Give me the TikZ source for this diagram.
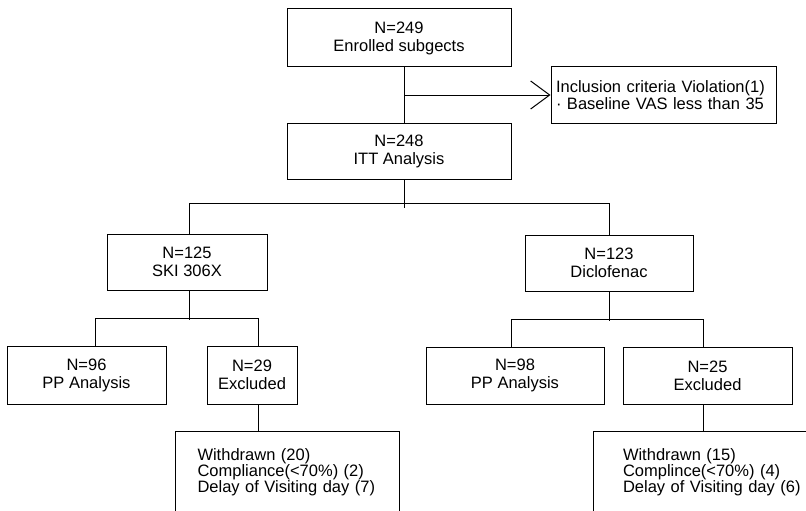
\documentclass[tikz,border=0pt]{standalone}
\usepackage{fontspec}
\setmainfont{Liberation Sans}
\usetikzlibrary{arrows.meta}
\begin{document}
\begin{tikzpicture}[x=1pt,y=-1pt,
  box/.style={draw, line width=1pt, inner sep=0pt, align=center, font=\fontsize{16.5}{18}\selectfont},
  lbox/.style={draw, line width=1pt, inner ysep=0pt, align=left, font=\fontsize{16.5}{16}\selectfont},
  conn/.style={line width=1pt},
]
\useasboundingbox (0,0) rectangle (806,511);
\clip (0,0) rectangle (806,511);
\fill[white] (0,0) rectangle (806,511);

\node[box, minimum width=224, minimum height=58] (enr) at (399,38) {N=249\\Enrolled subgects};
\node[lbox, minimum width=225, minimum height=56, inner xsep=5, text width=215,
      font=\fontsize{16.5}{17}\selectfont] (incl) at (663.5,95) {Inclusion criteria Violation(1)\\· Baseline VAS less than 35};
\node[box, minimum width=224, minimum height=56] (itt) at (399,151) {N=248\\ITT Analysis};
\node[box, minimum width=160, minimum height=56] (ski) at (187,262) {N=125\\SKI 306X};
\node[box, minimum width=168, minimum height=56] (dic) at (609,263) {N=123\\Diclofenac};
\node[box, minimum width=159, minimum height=58] (pp1) at (86.5,375) {N=96\\PP Analysis};
\node[box, minimum width=90, minimum height=58] (ex1) at (252,375) {N=29\\Excluded};
\node[box, minimum width=178, minimum height=57] (pp2) at (515,375.5) {N=98\\PP Analysis};
\node[box, minimum width=169, minimum height=57] (ex2) at (707.5,375.5) {N=25\\Excluded};
\node[lbox, minimum width=224, minimum height=82, inner xsep=22, text width=180] (bot1) at (287.5,472)
  {Withdrawn (20)\\Compliance(<70\%) (2)\\Delay of Visiting day (7)};
\node[lbox, minimum width=260, minimum height=82, inner xsep=30, text width=200] (bot2) at (723,472)
  {Withdrawn (15)\\Complince(<70\%) (4)\\Delay of Visiting day (6)};

% spine from enrolled to ITT with exclusion arrow
\coordinate (sp) at ([xshift=5]enr.south);
\draw[conn] (sp) -- (sp |- itt.north);
\draw[conn, -{Straight Barb[length=19pt,width=28pt]}] (sp |- incl.west) -- (incl.west);

% ITT to the two arms
\draw[conn] ([xshift=5]itt.south) -- ++(0,28);
\draw[conn] ([xshift=2]ski.north) -- ++(0,-30) -| (dic.north);

% SKI arm
\draw[conn] ([xshift=2]ski.south) -- ++(0,29);
\draw[conn] ([xshift=8.5]pp1.north) -- ++(0,-27) -| ([xshift=6]ex1.north);
\draw[conn] ([xshift=6]ex1.south) -- ++(0,27);

% Diclofenac arm
\draw[conn] (dic.south) -- ++(0,29);
\draw[conn] ([xshift=-4]pp2.north) -- ++(0,-27) -| ([xshift=-4.5]ex2.north);
\draw[conn] ([xshift=-4.5]ex2.south) -- ++(0,27);
\end{tikzpicture}
\end{document}
